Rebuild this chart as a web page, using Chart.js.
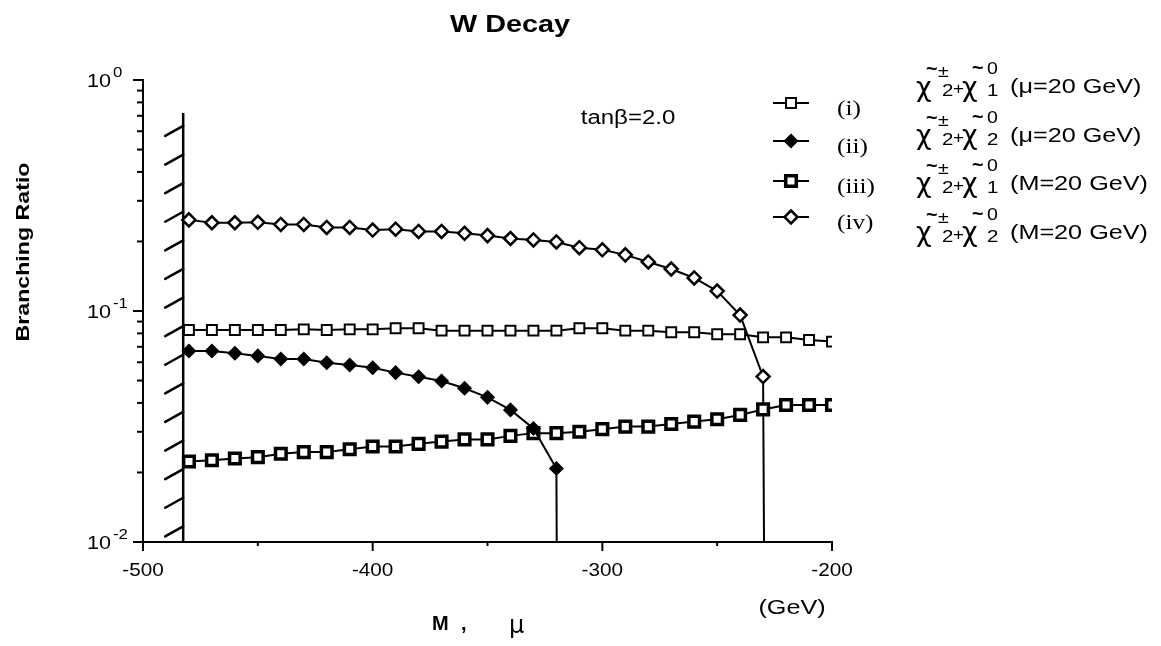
<!DOCTYPE html>
<html>
<head>
<meta charset="utf-8">
<script src="https://cdn.jsdelivr.net/npm/chart.js@4.4.1/dist/chart.umd.min.js"></script>
<style>
  html, body { margin: 0; padding: 0; background: #fff; }
  #wrap { width: 1161px; height: 646px; position: relative; }
</style>
</head>
<body>
<div id="wrap"><canvas id="chartWDecay"></canvas></div>
<script>
// Massas (GeV), de 10 em 10
const massesI = [-480, -470, -460, -450, -440, -430, -420, -410, -400, -390, -380, -370, -360, -350, -340,
  -330, -320, -310, -300, -290, -280, -270, -260, -250, -240, -230, -220, -210, -200];
const massesII = [-480, -470, -460, -450, -440, -430, -420, -410, -400, -390, -380, -370, -360, -350, -340,
  -330, -320];
const massesIII = [-480, -470, -460, -450, -440, -430, -420, -410, -400, -390, -380, -370, -360, -350, -340,
  -330, -320, -310, -300, -290, -280, -270, -260, -250, -240, -230, -220, -210, -200];
const massesIV = [-480, -470, -460, -450, -440, -430, -420, -410, -400, -390, -380, -370, -360, -350, -340,
  -330, -320, -310, -300, -290, -280, -270, -260, -250, -240, -230];

// Branching ratios
const brI = [0.0828, 0.0828, 0.0828, 0.0828, 0.0828, 0.0833, 0.0828, 0.0833, 0.0833, 0.0842, 0.0842, 0.0822,
  0.0822, 0.0822, 0.0822, 0.0822, 0.0822, 0.0842, 0.0842, 0.0822, 0.0822, 0.0809, 0.0809, 0.0793, 0.0793,
  0.0769, 0.0769, 0.0749, 0.0737];
const brII = [0.0671, 0.0671, 0.0656, 0.0639, 0.0620, 0.0620, 0.0597, 0.0584, 0.0568, 0.0541, 0.0519, 0.0498,
  0.0463, 0.0423, 0.0373, 0.0310, 0.0208];
const brIII = [0.0223, 0.0226, 0.0230, 0.0233, 0.0241, 0.0245, 0.0245, 0.0252, 0.0259, 0.0259, 0.0266, 0.0272,
  0.0278, 0.0278, 0.0288, 0.0296, 0.0296, 0.0300, 0.0308, 0.0316, 0.0316, 0.0324, 0.0332, 0.0340, 0.0355,
  0.0375, 0.0392, 0.0392, 0.0392];
const brIV = [0.248, 0.241, 0.241, 0.242, 0.237, 0.237, 0.230, 0.230, 0.224, 0.226, 0.221, 0.221, 0.217, 0.212,
  0.206, 0.203, 0.199, 0.188, 0.184, 0.175, 0.163, 0.152, 0.139, 0.122, 0.096, 0.052];

// limiar cinematico: BR cai a zero
const thresholdII = -319;
const thresholdIV = -228.5;
const brZero = 0.0001;

// limite da regiao excluida (hachurada)
const excludedEdge = -482.5;
const excludedTop = 0.72;

// eixos
const xTickLabels = [-500, -400, -300, -200];
const yTickValues = [0.01, 0.1, 1];
const yTickExponents = ['-2', '-1', '0'];

const legendNames = ['(i)', '(ii)', '(iii)', '(iv)'];
const channelSub = ['1', '2', '1', '2'];
const channelCond = ['(\u03bc=20 GeV)', '(\u03bc=20 GeV)', '(M=20 GeV)', '(M=20 GeV)'];

const markerStyles = [
  { pointStyle: 'rect', radius: 7, borderWidth: 2, fill: '#ffffff' },
  { pointStyle: 'rectRot', radius: 6.5, borderWidth: 1.5, fill: '#000000' },
  { pointStyle: 'rect', radius: 7.5, borderWidth: 3.5, fill: '#ffffff' },
  { pointStyle: 'rectRot', radius: 6.5, borderWidth: 2.5, fill: '#ffffff' },
];

const toPoints = (xs, ys) => xs.map((m, i) => ({ x: m, y: ys[i] }));

function serie(points, style, drop) {
  const data = drop === undefined ? points : points.concat([{ x: drop, y: brZero }]);
  return {
    data: data,
    borderColor: '#000',
    borderWidth: 2,
    tension: 0,
    pointStyle: style.pointStyle,
    pointRadius: data.map(p => (p.y < 0.01 ? 0 : style.radius)),
    pointBorderWidth: style.borderWidth,
    pointBackgroundColor: style.fill,
    pointBorderColor: '#000',
  };
}

function drawText(ctx, text, x, y, font, align, sx) {
  ctx.save();
  ctx.translate(x, y);
  ctx.scale(sx, 1);
  ctx.font = font;
  ctx.textAlign = align;
  ctx.textBaseline = 'middle';
  ctx.fillStyle = '#000';
  ctx.fillText(text, 0, 0);
  ctx.restore();
}

function drawMarker(ctx, st, x, y) {
  ctx.save();
  ctx.lineWidth = st.borderWidth;
  ctx.strokeStyle = '#000';
  ctx.fillStyle = st.fill;
  ctx.beginPath();
  if (st.pointStyle === 'rect') {
    const h = st.radius * Math.SQRT1_2;
    ctx.rect(x - h, y - h, 2 * h, 2 * h);
  } else {
    const r = st.radius;
    ctx.moveTo(x, y - r); ctx.lineTo(x + r, y); ctx.lineTo(x, y + r); ctx.lineTo(x - r, y);
    ctx.closePath();
  }
  ctx.fill();
  ctx.stroke();
  ctx.restore();
}

// rotulo do canal: chi~+-_2 + chi~0_n (cond)
function drawChannel(ctx, x0, cy, sub, cond) {
  const chi = '27px "DejaVu Sans"';
  const small = '17px "Liberation Sans"';
  drawText(ctx, '\u03c7', x0 - 1, cy + 1, chi, 'left', 1.0);
  drawText(ctx, '~', x0 + 9, cy - 17, 'bold 18px "Liberation Sans"', 'left', 1.1);
  drawText(ctx, '\u00b1', x0 + 21, cy - 15, small, 'left', 1.15);
  drawText(ctx, '2', x0 + 25, cy + 4, small, 'left', 1.2);
  drawText(ctx, '+', x0 + 36, cy + 2, small, 'left', 1.1);
  drawText(ctx, '\u03c7', x0 + 45, cy + 1, chi, 'left', 1.0);
  drawText(ctx, '~', x0 + 55, cy - 18, 'bold 18px "Liberation Sans"', 'left', 1.1);
  drawText(ctx, '0', x0 + 70, cy - 18, small, 'left', 1.15);
  drawText(ctx, sub, x0 + 70, cy + 4, small, 'left', 1.2);
  drawText(ctx, cond, x0 + 93, cy, '21px "Liberation Sans"', 'left', 1.2);
}

const decorPlugin = {
  id: 'decor',
  afterDraw(chart) {
    const ctx = chart.ctx;
    const xs = chart.scales.x;
    const ys = chart.scales.y;
    const area = chart.chartArea;

    ctx.save();
    ctx.strokeStyle = '#000';
    ctx.lineWidth = 2;

    // marcas do eixo x
    for (let v = -500; v <= -200; v += 50) {
      const px = xs.getPixelForValue(v);
      const len = v % 100 === 0 ? 9 : 4;
      ctx.beginPath(); ctx.moveTo(px, area.bottom); ctx.lineTo(px, area.bottom + len); ctx.stroke();
    }
    // marcas do eixo y (log)
    for (let e = -2; e <= 0; e++) {
      for (let m = 1; m <= 9; m++) {
        if (e === 0 && m > 1) break;
        const py = ys.getPixelForValue(m * Math.pow(10, e));
        const len = m === 1 ? 10 : 6;
        ctx.beginPath(); ctx.moveTo(area.left, py); ctx.lineTo(area.left - len, py); ctx.stroke();
      }
    }

    // hachuras da regiao excluida
    const bx = xs.getPixelForValue(excludedEdge);
    const topPx = ys.getPixelForValue(excludedTop);
    ctx.lineWidth = 2.5;
    ctx.lineCap = 'round';
    for (let hy = topPx + 13; hy < area.bottom - 10; hy += 28.6) {
      ctx.beginPath(); ctx.moveTo(bx - 18, hy + 10); ctx.lineTo(bx, hy); ctx.stroke();
    }
    ctx.restore();

    // rotulos dos eixos
    xTickLabels.forEach(v => {
      drawText(ctx, String(v), xs.getPixelForValue(v), area.bottom + 29, '18px "Liberation Sans"', 'center', 1.15);
    });
    yTickValues.forEach((v, i) => {
      const py = ys.getPixelForValue(v);
      drawText(ctx, '10', area.left - 32, py + 2, '18px "Liberation Sans"', 'right', 1.2);
      drawText(ctx, yTickExponents[i], area.left - 30, py - 7, '14px "Liberation Sans"', 'left', 1.2);
    });

    drawText(ctx, 'W Decay', 510, 25, 'bold 24px "Liberation Sans"', 'center', 1.2);
    drawText(ctx, 'tan\u03b2=2.0', 628, 118, '20px "Liberation Sans"', 'center', 1.2);
    drawText(ctx, '(GeV)', 792, 608, '21px "Liberation Sans"', 'center', 1.2);
    drawText(ctx, 'M', 432, 624, 'bold 20px "Liberation Sans"', 'left', 1.0);
    drawText(ctx, ',', 461, 624, 'bold 20px "Liberation Sans"', 'left', 1.0);
    drawText(ctx, '\u03bc', 509, 627, '24px "DejaVu Sans"', 'left', 1.0);

    ctx.save();
    ctx.translate(24, 252);
    ctx.rotate(-Math.PI / 2);
    drawText(ctx, 'Branching Ratio', 0, 0, 'bold 19px "Liberation Sans"', 'center', 1.22);
    ctx.restore();

    // legenda
    const legendRows = [103, 141, 181, 217];
    legendNames.forEach((name, i) => {
      const y = legendRows[i];
      ctx.save();
      ctx.strokeStyle = '#000'; ctx.lineWidth = 2;
      ctx.beginPath(); ctx.moveTo(773, y); ctx.lineTo(809, y); ctx.stroke();
      ctx.restore();
      drawMarker(ctx, markerStyles[i], 791, y);
      drawText(ctx, name, 837, y + 6, '21px "Liberation Serif"', 'left', 1.2);
    });
    const channelRows = [87.5, 136, 184, 233];
    channelRows.forEach((cy, i) => drawChannel(ctx, 917, cy, channelSub[i], channelCond[i]));
  }
};

const ctxWDecay = document.getElementById('chartWDecay').getContext('2d');

new Chart(ctxWDecay, {
  type: 'line',
  data: {
    datasets: [
      serie(toPoints(massesI, brI), markerStyles[0]),
      serie(toPoints(massesII, brII), markerStyles[1], thresholdII),
      serie(toPoints(massesIII, brIII), markerStyles[2]),
      serie(toPoints(massesIV, brIV), markerStyles[3], thresholdIV),
      {
        data: [{ x: excludedEdge, y: 0.01 }, { x: excludedEdge, y: excludedTop }],
        borderColor: '#000',
        borderWidth: 2.5,
        pointRadius: 0,
      },
    ],
  },
  options: {
    responsive: true,
    maintainAspectRatio: false,
    animation: false,
    layout: { padding: { left: 0, top: 80, right: 329, bottom: 0 } },
    plugins: { legend: { display: false }, tooltip: { enabled: false } },
    scales: {
      x: {
        type: 'linear',
        min: -500,
        max: -200,
        grid: { display: false, drawTicks: false },
        border: { display: true, color: '#000', width: 2 },
        ticks: { display: false },
        afterFit: (s) => { s.height = 104; },
      },
      y: {
        type: 'logarithmic',
        min: 0.01,
        max: 1,
        grid: { display: false, drawTicks: false },
        border: { display: true, color: '#000', width: 2 },
        ticks: { display: false },
        afterFit: (s) => { s.width = 143; },
      },
    },
  },
  plugins: [decorPlugin],
});
</script>
</body>
</html>
